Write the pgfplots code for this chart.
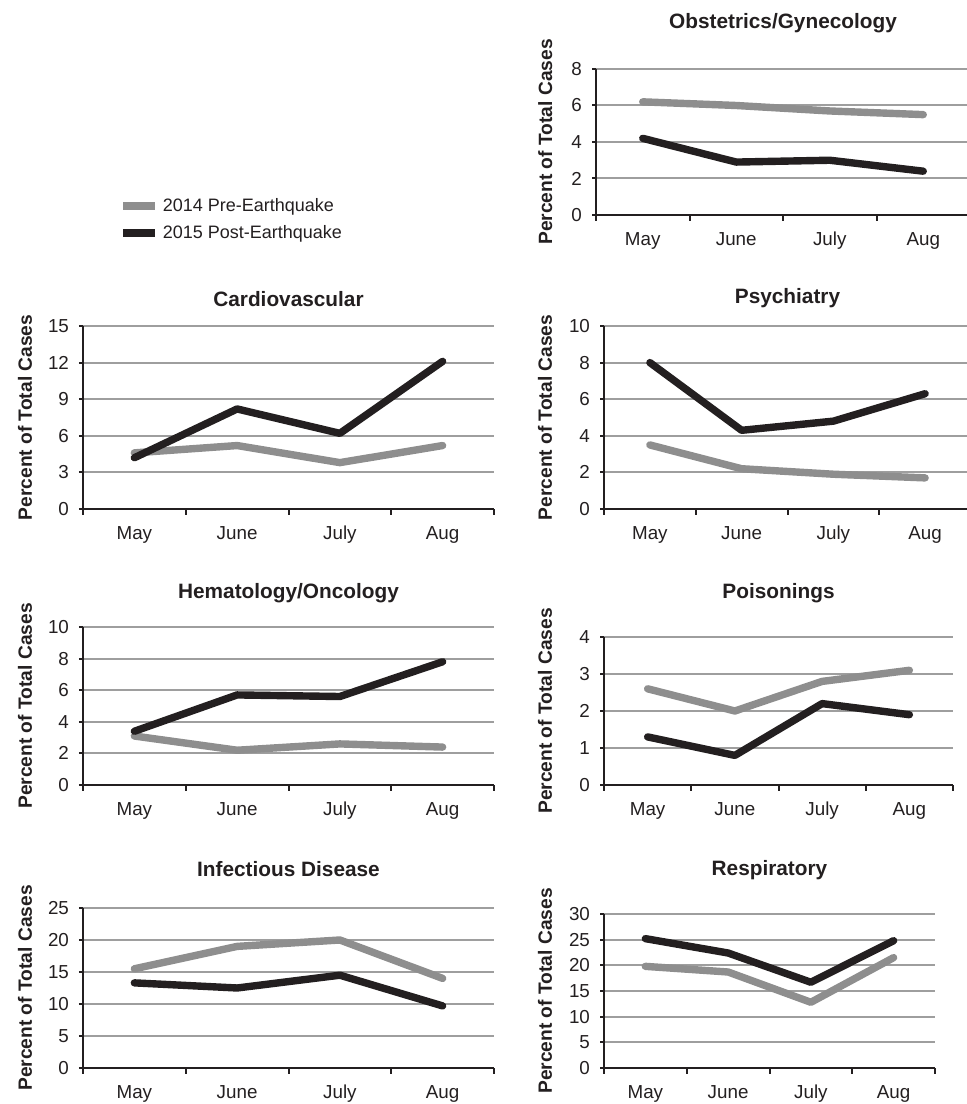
\documentclass[border=0pt]{standalone}
\usepackage{fontspec}
\setmainfont{Liberation Sans}
\usepackage{pgfplots}
\pgfplotsset{compat=1.18}
\definecolor{lgray}{RGB}{142,142,142}
\definecolor{ggray}{RGB}{158,158,158}
\definecolor{dark}{RGB}{35,31,32}
\pgfplotsset{
  panel/.style={
    scale only axis, anchor=south west,
    xmin=0, xmax=4, ymin=0,
    axis x line*=bottom, axis y line*=left,
    axis line style={-, line width=1.4pt, color=dark},
    xtick={0.5,1.5,2.5,3.5}, xticklabels={May,June,July,Aug},
    minor xtick={0,1,2,3,4},
    major x tick style={draw=none},
    tick align=outside,
    major tick length=2pt, minor tick length=3pt,
    every tick/.style={dark, line width=1pt},
    ymajorgrids, major grid style={ggray, line width=1pt},
    /pgf/number format/assume math mode=true,
    tick label style={font=\fontsize{9.4}{11}\selectfont, text=dark},
    yticklabel style={xshift=-1.5pt},
    xticklabel style={yshift=-1.5pt, text height=1.6ex, text depth=0.4ex},
    ylabel={Percent of Total Cases},
    ylabel style={font=\fontsize{9.6}{11}\selectfont\bfseries, text=dark, anchor=center, rotate=0},
    title style={font=\fontsize{10.4}{12}\selectfont\bfseries, text=dark, at={(axis description cs:0.5,1)}, anchor=center},
    every axis plot/.append style={line width=3.7pt, line cap=round, line join=round},
    clip=false,
  },
  pre/.style={lgray},
  post/.style={dark},
}
\begin{document}
\begin{tikzpicture}
\path[use as bounding box] (0,0) rectangle (483.5pt,552pt);
% Obstetrics/Gynecology
\begin{axis}[panel, at={(298pt,444.5pt)}, width=187pt, height=73pt,
  ymax=8, ytick={0,2,...,8}, title={Obstetrics/Gynecology}, title style={yshift=17pt},
  ylabel style={at={(axis description cs:-0.136,0.5)}}]
\addplot[pre] coordinates {(0.5,6.2) (1.5,6.0) (2.5,5.7) (3.5,5.5)};
\addplot[post] coordinates {(0.5,4.2) (1.5,2.9) (2.5,3.0) (3.5,2.4)};
\end{axis}
% Cardiovascular
\begin{axis}[panel, at={(41.5pt,297.5pt)}, width=205.5pt, height=91.5pt,
  ymax=15, ytick={0,3,...,15}, title={Cardiovascular}, title style={yshift=7.5pt},
  ylabel style={at={(axis description cs:-0.141,0.5)}},
  legend style={draw=none, fill=none, at={(axis description cs:0.073,1.745)}, anchor=north west,
    font=\fontsize{9}{11}\selectfont, text=dark, row sep=1.5pt, cells={anchor=west}},
  legend image code/.code={\draw[#1, line cap=butt] (0pt,0pt) -- (16pt,0pt);}]
\addplot[pre] coordinates {(0.5,4.6) (1.5,5.2) (2.5,3.8) (3.5,5.2)};
\addplot[post] coordinates {(0.5,4.2) (1.5,8.2) (2.5,6.2) (3.5,12.1)};
\legend{2014 Pre-Earthquake, 2015 Post-Earthquake}
\end{axis}
% Psychiatry
\begin{axis}[panel, at={(302pt,297.5pt)}, width=183.5pt, height=91.5pt,
  ymax=10, ytick={0,2,...,10}, title={Psychiatry}, title style={yshift=8pt},
  ylabel style={at={(axis description cs:-0.161,0.5)}}]
\addplot[pre] coordinates {(0.5,3.5) (1.5,2.2) (2.5,1.9) (3.5,1.7)};
\addplot[post] coordinates {(0.5,8.0) (1.5,4.3) (2.5,4.8) (3.5,6.3)};
\end{axis}
% Hematology/Oncology
\begin{axis}[panel, at={(41.5pt,159.5pt)}, width=205.5pt, height=79pt,
  ymax=10, ytick={0,2,...,10}, title={Hematology/Oncology}, title style={yshift=11pt},
  ylabel style={at={(axis description cs:-0.141,0.5)}}]
\addplot[pre] coordinates {(0.5,3.1) (1.5,2.2) (2.5,2.6) (3.5,2.4)};
\addplot[post] coordinates {(0.5,3.4) (1.5,5.7) (2.5,5.6) (3.5,7.8)};
\end{axis}
% Poisonings
\begin{axis}[panel, at={(302pt,159.5pt)}, width=174.5pt, height=74pt,
  ymax=4, ytick={0,1,...,4}, title={Poisonings}, title style={yshift=16pt},
  ylabel style={at={(axis description cs:-0.169,0.5)}}]
\addplot[pre] coordinates {(0.5,2.6) (1.5,2.0) (2.5,2.8) (3.5,3.1)};
\addplot[post] coordinates {(0.5,1.3) (1.5,0.8) (2.5,2.2) (3.5,1.9)};
\end{axis}
% Infectious Disease
\begin{axis}[panel, at={(41.5pt,18pt)}, width=205.5pt, height=80pt,
  ymax=25, ytick={0,5,...,25}, title={Infectious Disease}, title style={yshift=13.5pt},
  ylabel style={at={(axis description cs:-0.141,0.5)}}]
\addplot[pre] coordinates {(0.5,15.5) (1.5,19.0) (2.5,20.0) (3.5,14.0)};
\addplot[post] coordinates {(0.5,13.3) (1.5,12.5) (2.5,14.5) (3.5,9.7)};
\end{axis}
% Respiratory
\begin{axis}[panel, at={(302pt,18pt)}, width=165.5pt, height=77pt,
  ymax=30, ytick={0,5,...,30}, title={Respiratory}, title style={yshift=16pt},
  ylabel style={at={(axis description cs:-0.178,0.5)}}]
\addplot[pre] coordinates {(0.5,19.8) (1.5,18.7) (2.5,12.8) (3.5,21.5)};
\addplot[post] coordinates {(0.5,25.2) (1.5,22.4) (2.5,16.7) (3.5,24.8)};
\end{axis}
\end{tikzpicture}
\end{document}
